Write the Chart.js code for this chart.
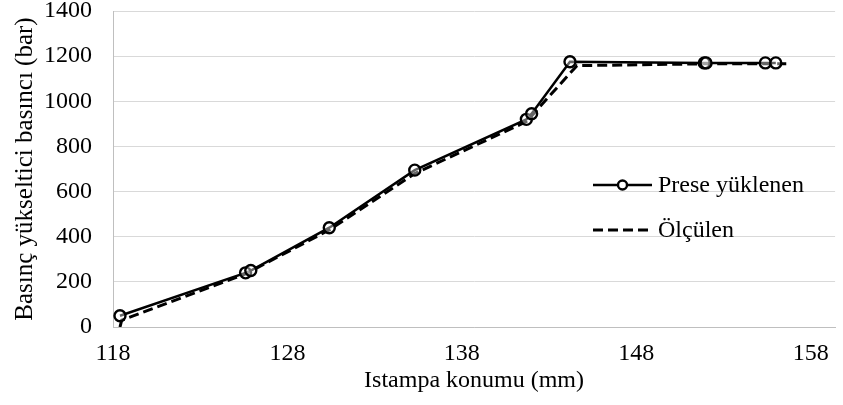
<!DOCTYPE html>
<html>
<head>
<meta charset="utf-8">
<script src="https://cdn.jsdelivr.net/npm/chart.js@4"></script>
<style>
  html, body { margin: 0; padding: 0; background: #fff; }
  #wrap { width: 843px; height: 405px; }
</style>
</head>
<body>
<div id="wrap"><canvas id="pressChart"></canvas></div>
<script>
// Prese yüklenen (press loaded)
const presX = [118.4, 125.6, 125.9, 130.4, 135.3, 141.7, 142.0, 144.2, 151.9, 152.0, 155.4, 156.0];
const presY = [50, 240, 250, 440, 695, 920, 945, 1175, 1170, 1170, 1170, 1170];

// Ölçülen (measured)
const measX = [118.4, 118.5, 125.6, 130.4, 135.3, 141.7, 144.6, 152.0, 156.6];
const measY = [0, 30, 235, 430, 680, 910, 1158, 1166, 1166];

const xTicks = [118, 128, 138, 148, 158];
const yTicks = [0, 200, 400, 600, 800, 1000, 1200, 1400];

const FONT = "'Liberation Serif', 'Times New Roman', serif";
const FS = 24;

function toPoints(xs, ys) {
  return xs.map((x, i) => ({ x: x, y: ys[i] }));
}

// legend drawn inside the plot area, to the right
const innerLegend = {
  id: 'innerLegend',
  afterDraw(chart) {
    const ctx = chart.ctx;
    const a = chart.chartArea;
    const x0 = a.left + 480, x1 = x0 + 59;
    const rows = [a.top + 174, a.top + 219];
    ctx.save();
    chart.data.datasets.forEach((ds, i) => {
      const y = rows[i];
      ctx.strokeStyle = ds.borderColor;
      ctx.lineWidth = ds.borderWidth;
      ctx.setLineDash(ds.borderDash || []);
      ctx.beginPath();
      ctx.moveTo(x0, y);
      ctx.lineTo(x1, y);
      ctx.stroke();
      ctx.setLineDash([]);
      if (ds.pointRadius > 0) {
        ctx.beginPath();
        ctx.arc((x0 + x1) / 2, y, ds.pointRadius - 1, 0, Math.PI * 2);
        ctx.fillStyle = '#fff';
        ctx.fill();
        ctx.lineWidth = ds.pointBorderWidth;
        ctx.stroke();
      }
      ctx.fillStyle = '#000';
      ctx.font = FS + 'px ' + FONT;
      ctx.textBaseline = 'middle';
      ctx.fillText(ds.label, x1 + 6, y + 1);
    });
    ctx.restore();
  }
};

new Chart(document.getElementById('pressChart'), {
  type: 'line',
  data: {
    datasets: [{
      label: 'Prese yüklenen',
      data: toPoints(presX, presY),
      borderColor: '#000',
      borderWidth: 2.5,
      pointRadius: 5.5,
      pointBorderWidth: 2.4,
      pointBackgroundColor: 'rgba(255,255,255,0.4)',
      pointBorderColor: '#000',
      tension: 0
    }, {
      label: 'Ölçülen',
      data: toPoints(measX, measY),
      borderColor: '#000',
      borderWidth: 3,
      borderDash: [10, 5],
      pointRadius: 0,
      tension: 0
    }]
  },
  options: {
    responsive: true,
    maintainAspectRatio: false,
    animation: false,
    layout: { padding: { top: 0, right: 5, left: 0, bottom: 0 } },
    plugins: {
      legend: { display: false },
      tooltip: { enabled: false }
    },
    scales: {
      x: {
        type: 'linear',
        min: 118,
        max: 159.4,
        afterBuildTicks: s => { s.ticks = xTicks.map(v => ({ value: v })); },
        afterFit: s => { s.height = 78; },
        grid: { display: false },
        border: { display: true, color: '#bfbfbf', width: 1 },
        ticks: {
          color: '#000', font: { family: FONT, size: FS }, padding: 4, maxRotation: 0,
          callback: v => String(v)
        },
        title: {
          display: true,
          text: 'Istampa konumu (mm)',
          color: '#000',
          font: { family: FONT, size: FS },
          padding: { top: 0, bottom: 10 }
        }
      },
      y: {
        min: 0,
        max: 1400,
        afterBuildTicks: s => { s.ticks = yTicks.map(v => ({ value: v })); },
        afterFit: s => { s.width = 113; s.paddingTop = 11; s.paddingBottom = 0; },
        grid: { color: '#d9d9d9', lineWidth: 1, drawTicks: false },
        border: { display: true, color: '#bfbfbf', width: 1 },
        ticks: {
          color: '#000', font: { family: FONT, size: FS }, padding: 21,
          callback: v => String(v)
        },
        title: {
          display: true,
          text: 'Basınç yükseltici basıncı (bar)',
          color: '#000',
          font: { family: FONT, size: 25 },
          padding: { top: 10, bottom: 0 }
        }
      }
    }
  },
  plugins: [innerLegend]
});
</script>
</body>
</html>
